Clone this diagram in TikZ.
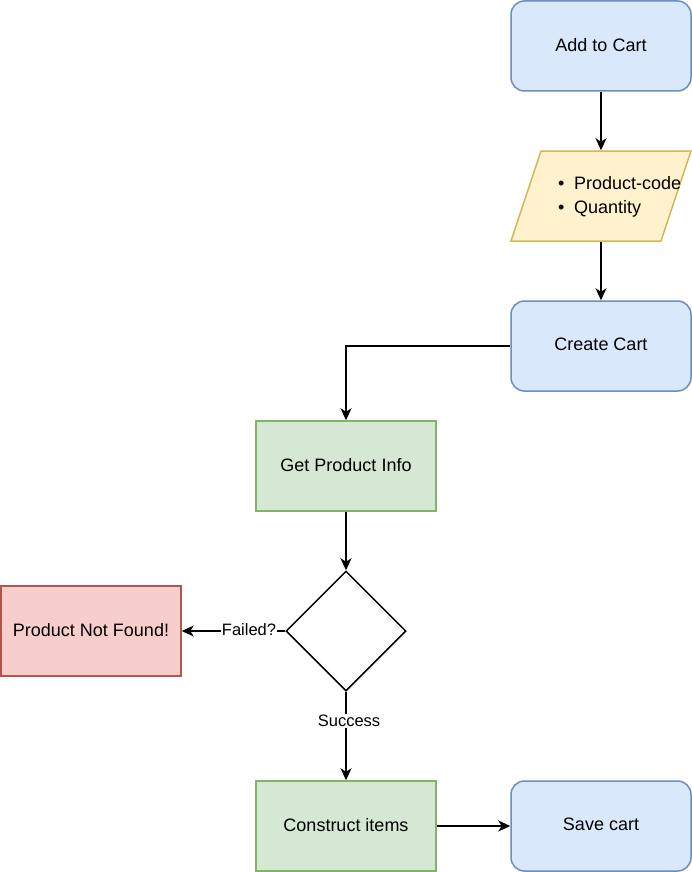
\documentclass[tikz,border=0pt]{standalone}
\usepackage{fontspec}
\setmainfont{Liberation Sans}
\usetikzlibrary{arrows.meta,shapes.geometric}
\definecolor{bluef}{HTML}{DAE8FC}\definecolor{blued}{HTML}{6C8EBF}
\definecolor{yelf}{HTML}{FFF2CC}\definecolor{yeld}{HTML}{D6B656}
\definecolor{grnf}{HTML}{D5E8D4}\definecolor{grnd}{HTML}{82B366}
\definecolor{redf}{HTML}{F8CECC}\definecolor{redd}{HTML}{B85450}
\newcommand{\up}[1]{\raisebox{3pt}{#1}}
\tikzset{
  box/.style={minimum width=180pt,minimum height=90pt,inner sep=0pt,line width=1.5pt,font=\fontsize{18}{21}\selectfont},
  bluebox/.style={box,draw=blued,fill=bluef,rounded corners=13.5pt},
  greenbox/.style={box,draw=grnd,fill=grnf},
  redbox/.style={box,draw=redd,fill=redf},
  conn/.style={line width=1.5pt,-{Stealth[length=12pt,width=11pt,inset=3.5pt]}},
  lbl/.style={fill=white,inner sep=1pt,font=\fontsize{16.5}{19}\selectfont},
}
\begin{document}
\begin{tikzpicture}[x=1pt,y=-1pt]
\useasboundingbox (0,0) rectangle (692,872);
\node[bluebox] (add) at (601,46) {\up{Add to Cart}};
\node[box] (para) at (601,196) {};
\draw[line width=1.5pt,draw=yeld,fill=yelf] (541,151) -- (691,151) -- (661,241) -- (511,241) -- cycle;
\node[anchor=west,align=left,inner sep=0pt,font=\fontsize{18}{24}\selectfont] (paratxt) at (558,197)
  {\makebox[16pt][l]{\textbullet}Product-code\\\makebox[16pt][l]{\textbullet}Quantity};
\node[bluebox] (create) at (601,346) {\up{Create Cart}};
\node[greenbox] (info) at (346,466) {\up{Get Product Info}};
\node[diamond,draw,line width=1.5pt,minimum width=120pt,minimum height=120pt,inner sep=0pt,aspect=1] (dec) at (346,631) {};
\node[redbox] (nf) at (91,631) {\up{Product Not Found!}};
\node[greenbox] (items) at (346,826) {\up{Construct items}};
\node[bluebox] (save) at (601,826) {\up{Save cart}};
\draw[conn] (add) -- (para);
\draw[conn] (para) -- (create);
\draw[conn] (create.west) -| (info.north);
\draw[conn] (info) -- (dec.north);
\draw[conn] (dec.west) -- node[lbl,pos=0.35,yshift=1pt] {Failed?} (nf.east);
\draw[conn] (dec.south) -- node[lbl,pos=0.33,xshift=3pt] {Success} (items.north);
\draw[conn] (items) -- (save);
\end{tikzpicture}
\end{document}
